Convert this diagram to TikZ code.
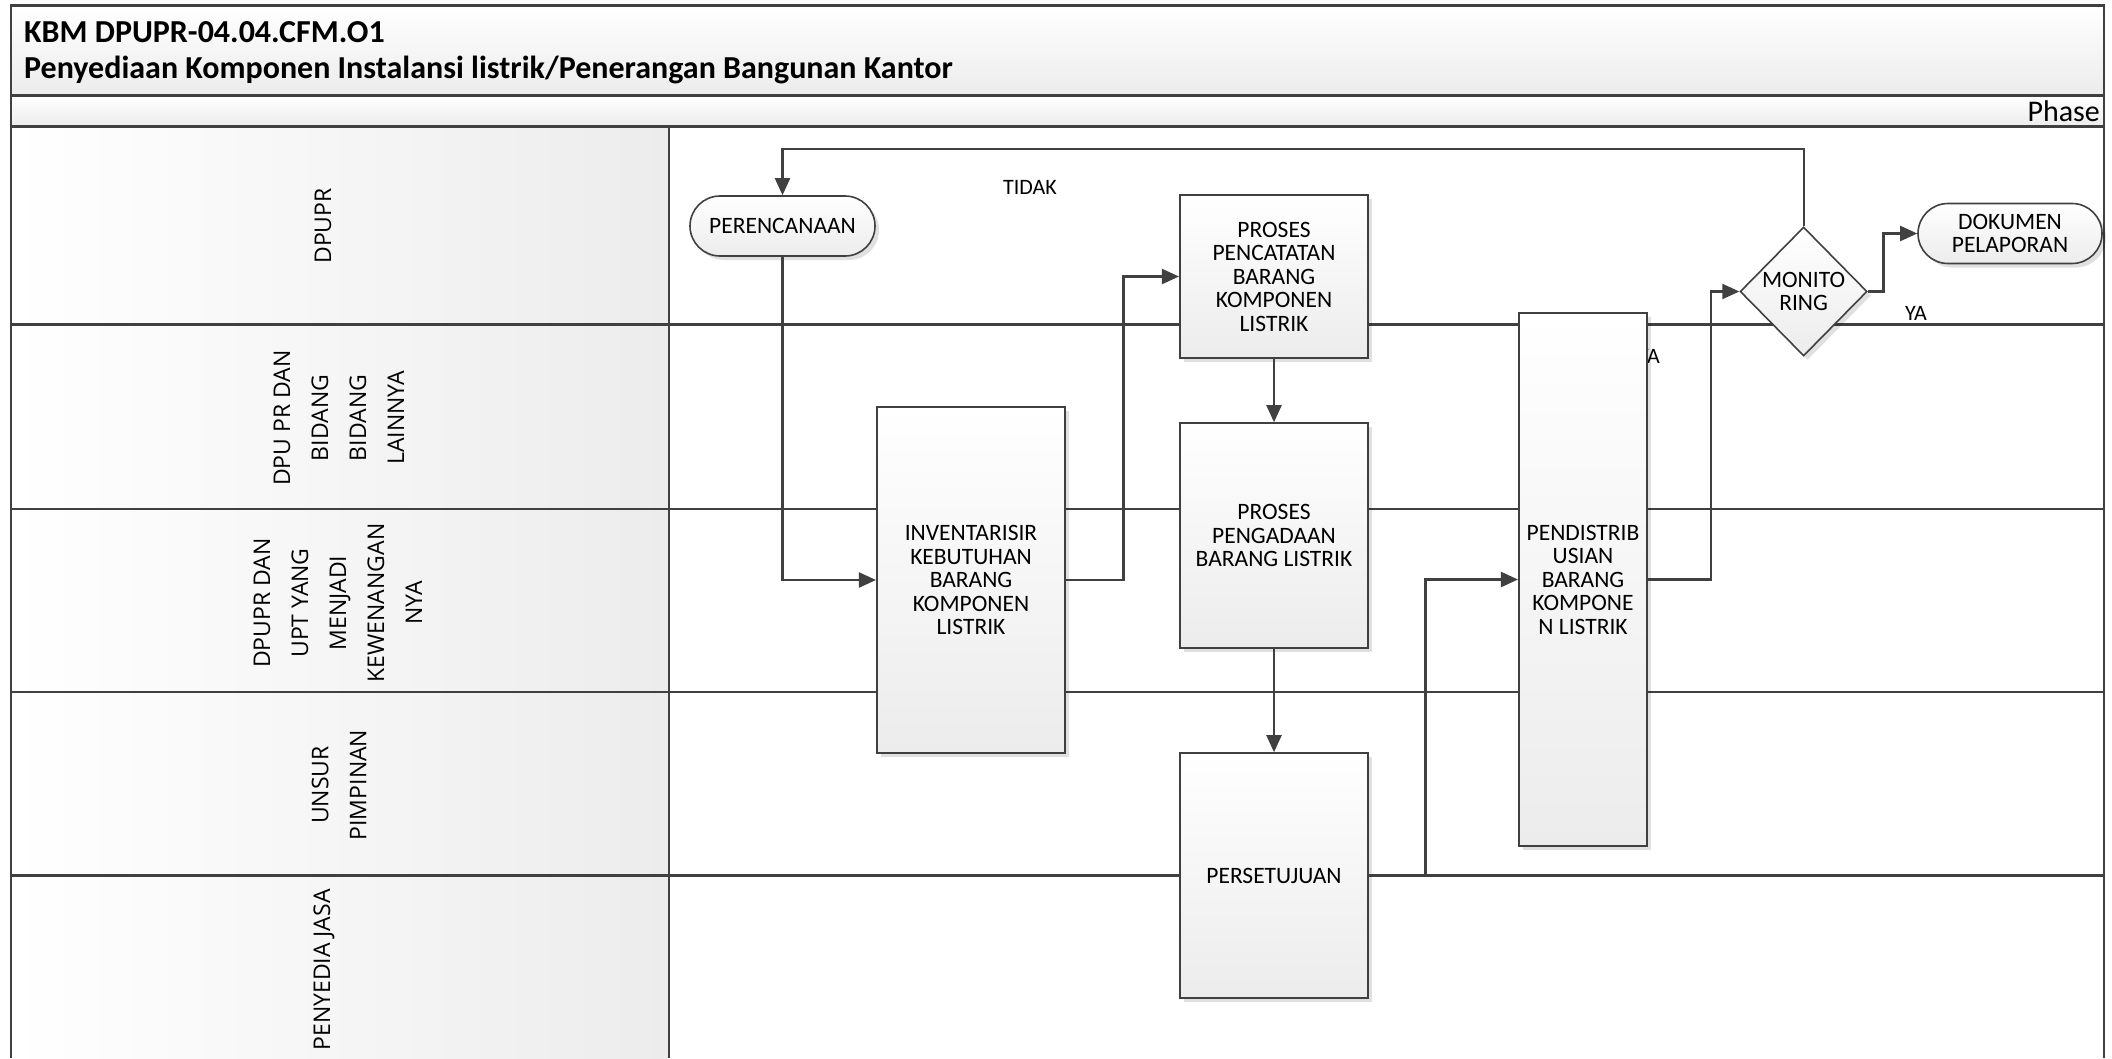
\documentclass[tikz,border=0pt]{standalone}
\usepackage{fontspec}
\setmainfont{Carlito}
\newfontfamily\lanefont{Open Sans}
\usetikzlibrary{shapes.geometric,shapes.misc,arrows.meta,shadows}
\definecolor{ln}{HTML}{404040}
\definecolor{shd}{HTML}{ECECEC}
\begin{document}
\begin{tikzpicture}[x=1pt,y=-1pt,
  laneline/.style={draw=ln, line width=2.4pt},
  conn/.style={draw=ln, line width=2.2pt, -{Triangle[length=17pt,width=15pt]}},
  proc/.style={rectangle, draw=ln, line width=1.6pt, top color=white, bottom color=shd,
    inner sep=2pt, align=center, font=\fontsize{23.5}{23.5}\selectfont,
    drop shadow={shadow xshift=4pt, shadow yshift=-4pt, fill=black, opacity=0.12}},
  term/.style={proc, rounded rectangle},
  deci/.style={proc, diamond, aspect=1, inner sep=0pt},
  lbl/.style={font=\fontsize{22}{24}\selectfont, inner sep=0pt},
  lanelbl/.style={rotate=90, align=center, font=\lanefont\fontsize{23}{38}\selectfont, inner sep=0pt}
]
\useasboundingbox (0,0) rectangle (2112,1058);
\fill[white] (0,0) rectangle (2112,1058);
% title and phase bars
\shade[top color=white, bottom color=shd] (10.8,5.4) rectangle (2104,95.6);
\shade[top color=white, bottom color=shd] (10.8,95.6) rectangle (2104,126.6);
% lane header column
\shade[left color=white, right color=shd] (10.8,126.6) rectangle (669,1058);
% frame lines
\draw[laneline] (10.8,1058) -- (10.8,5.4) -- (2104,5.4) -- (2104,1058);
\draw[laneline] (10.8,95.6) -- (2104,95.6);
\draw[laneline] (10.8,126.6) -- (2104,126.6);
\draw[laneline] (669,126.6) -- (669,1058);
\foreach \yy in {324.6,509,692,875.5} \draw[laneline] (10.8,\yy) -- (2104,\yy);
% titles
\node[anchor=base west, font=\bfseries\fontsize{32}{33}\selectfont, inner sep=0pt] (t1) at (24,42.5) {KBM DPUPR-04.04.CFM.O1};
\node[anchor=base west, font=\bfseries\fontsize{32}{33}\selectfont, inner sep=0pt] (t2) at (24,78) {Penyediaan Komponen Instalansi listrik/Penerangan Bangunan Kantor};
\node[anchor=base east, font=\fontsize{30}{32}\selectfont, inner sep=0pt] (ph) at (2100,121) {Phase};
% lane labels
\node[lanelbl] (l1) at (323,226) {DPUPR};
\node[lanelbl] (l2) at (339,418) {DPU PR DAN\\BIDANG\\BIDANG\\LAINNYA};
\node[lanelbl] (l3) at (338,603) {DPUPR DAN\\UPT YANG\\MENJADI\\KEWENANGAN\\NYA};
\node[lanelbl] (l4) at (339,785) {UNSUR\\PIMPINAN};
\node[lanelbl] (l5) at (324,970) {PENYEDIA JASA};
% labels
\node[lbl] (tidak) at (1030,187) {TIDAK};
\node[lbl] (ya1) at (1916,313) {YA};
\node[lbl] (ya2) at (1649,356) {YA};
% nodes
\node[term, minimum width=189pt, minimum height=60pt] (per) at (782.5,226) {PERENCANAAN};
\node[proc, minimum width=188.5pt, minimum height=346pt] (inv) at (971,580) {INVENTARISIR\\KEBUTUHAN\\BARANG\\KOMPONEN\\LISTRIK};
\node[proc, minimum width=188.5pt, minimum height=163pt] (pcat) at (1274,276.5) {PROSES\\PENCATATAN\\BARANG\\KOMPONEN\\LISTRIK};
\node[proc, minimum width=188.5pt, minimum height=225pt] (peng) at (1274,535.5) {PROSES\\PENGADAAN\\BARANG LISTRIK};
\node[proc, minimum width=188.5pt, minimum height=245pt] (pers) at (1274,875.5) {PERSETUJUAN};
\node[proc, minimum width=128.5pt, minimum height=533pt] (pdist) at (1583,579.5) {PENDISTRIB\\USIAN\\BARANG\\KOMPONE\\N LISTRIK};
\node[deci, minimum width=127pt, minimum height=129pt] (mon) at (1803.6,291.5) {MONITO\\RING};
\node[term, minimum width=188pt, minimum height=60pt] (dok) at (2010,233.5) {DOKUMEN\\PELAPORAN};
% connectors
\draw[conn] (per.south) -- (per.south |- inv.west) -- (inv.west);
\draw[conn] (inv.east) -- ++(57.5,0) |- (pcat.west);
\draw[conn] (pcat.south) -- (peng.north);
\draw[conn] (peng.south) -- (pers.north);
\draw[conn] (pers.east) -- ++(56.5,0) |- (pdist.west);
\draw[conn] (pdist.east) -- ++(63,0) |- (mon.west);
\draw[conn] (mon.north) -- ++(0,-77.5) -| (per.north);
\draw[conn] (mon.east) -- ++(15.5,0) |- (dok.west);
\end{tikzpicture}
\end{document}
